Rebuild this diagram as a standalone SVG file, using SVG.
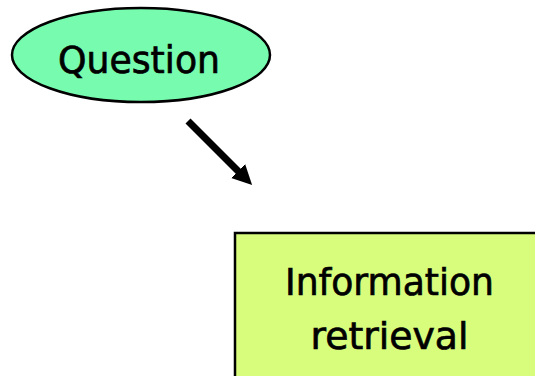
<svg xmlns="http://www.w3.org/2000/svg" width="535" height="376" viewBox="0 0 535 376">
  <style>
    .lbl { font-family: "DejaVu Sans", "Liberation Sans", sans-serif; fill: #000; stroke: #000; stroke-width: 0.7; text-anchor: middle; }
    .edge { stroke: #000; stroke-width: 7; fill: none; }
  </style>
  <defs>
    <marker id="ah" markerUnits="userSpaceOnUse" markerWidth="22" markerHeight="22" viewBox="0 -10 20 20" refX="5" refY="0" orient="auto">
      <path d="M0,-9 L18,0 L0,9 z" fill="#000"/>
    </marker>
  </defs>
  <rect width="535" height="376" fill="#fff"/>
  <g id="question">
    <ellipse cx="141" cy="55" rx="129" ry="47" fill="#77fbaf" stroke="#000" stroke-width="2.5"/>
    <text class="lbl" x="139" y="73" font-size="37" textLength="162" lengthAdjust="spacingAndGlyphs">Question</text>
  </g>
  <g id="ir">
    <rect x="235" y="233" width="310" height="160" fill="#d8fc7c" stroke="#000" stroke-width="2.5"/>
    <text class="lbl" x="389.5" y="295" font-size="38" textLength="209" lengthAdjust="spacingAndGlyphs">Information</text>
    <text class="lbl" x="389.5" y="349" font-size="38" textLength="158" lengthAdjust="spacingAndGlyphs">retrieval</text>
  </g>
  <g id="connectors">
    <line class="edge" x1="188" y1="121" x2="242" y2="175" marker-end="url(#ah)"/>
  </g>
</svg>
